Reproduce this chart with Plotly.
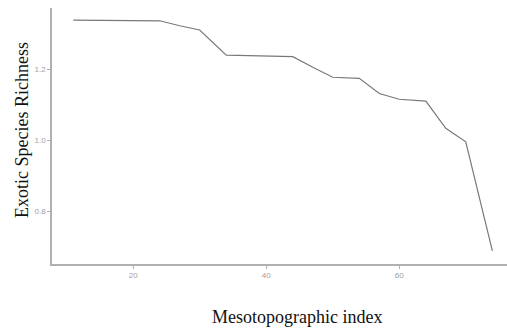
import plotly.graph_objects as go

meso_index = [11, 24, 27, 30, 34, 39, 44, 47, 50, 54, 57, 60, 64, 67, 70, 74]
richness = [1.338, 1.336, 1.322, 1.310, 1.239, 1.237, 1.235, 1.205, 1.177, 1.174, 1.131, 1.115, 1.110, 1.033, 0.995, 0.688]
x_ticks = [20, 40, 60]
y_ticks = [0.8, 1.0, 1.2]
y_tick_labels = ["0.8", "1.0", "1.2"]

W, H = 507, 330
L, R, T, B = 52, 0, 8, 66

fig = go.Figure()
fig.add_trace(go.Scatter(x=meso_index, y=richness, mode="lines",
                         line=dict(color="#787878", width=1.2), showlegend=False))

axis_common = dict(showgrid=False, zeroline=False, showline=True, linecolor="#b0b0b0",
                   linewidth=1.6, ticks="outside", ticklen=3, tickcolor="#b0b0b0",
                   tickfont=dict(family="Liberation Sans", size=8, color="#a0a0a0"))
fig.update_xaxes(range=[7.8, 76.2], tickvals=x_ticks, **axis_common)
fig.update_yaxes(range=[0.651, 1.372], tickvals=y_ticks, ticktext=y_tick_labels, **axis_common)

pw = W - L - R
ph = H - T - B
fig.add_annotation(text="Mesotopographic index", xref="paper", yref="paper",
                   x=(297 - L) / pw, y=-(317 - (T + ph)) / ph, showarrow=False,
                   font=dict(family="Liberation Serif", size=18, color="#111"),
                   xanchor="center", yanchor="middle")
fig.add_annotation(text="Exotic Species Richness", xref="paper", yref="paper",
                   x=-(L - 22) / pw, y=1 - (130 - T) / ph, showarrow=False, textangle=-90,
                   font=dict(family="Liberation Serif", size=18, color="#111"),
                   xanchor="center", yanchor="middle")

fig.update_layout(width=W, height=H, margin=dict(l=L, r=R, t=T, b=B),
                  plot_bgcolor="white", paper_bgcolor="white")
fig.write_html("out.html")
